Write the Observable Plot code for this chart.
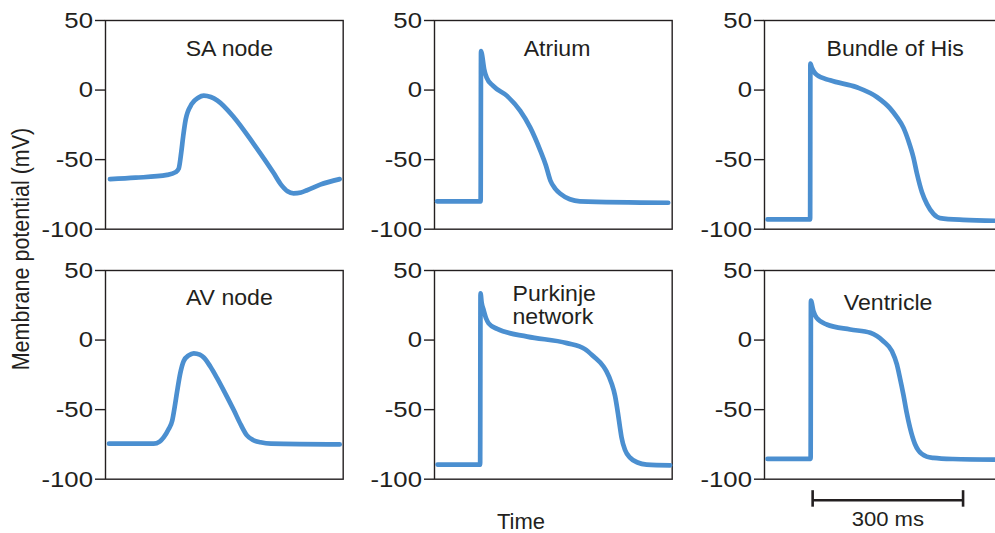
<!DOCTYPE html>
<html>
<head>
<meta charset="utf-8">
<script src="https://cdn.jsdelivr.net/npm/d3@7"></script>
<script src="https://cdn.jsdelivr.net/npm/@observablehq/plot@0.6"></script>
<style>
  html, body { margin: 0; padding: 0; background: #fff; overflow: hidden; }
  #chart { position: relative; width: 995px; height: 533px; overflow: hidden; background: #fff;
           font-family: "Liberation Sans", Arial, Helvetica, sans-serif; color: #231f20; }
  #chart svg { position: absolute; overflow: visible; }
  .lbl { position: absolute; white-space: nowrap; font-size: 21px; line-height: 1; color: #231f20; }
</style>
</head>
<body>
<div id="chart"></div>
<script>
// ---------- data (time in ms, membrane potential in mV) ----------
const panelNames = ["SA node", "Atrium", "Bundle of His", "AV node", "Purkinje\nnetwork", "Ventricle"];
const yTicks = [50, 0, -50, -100];
const xDomain = [0, 474];
const yDomain = [-100, 50];

const saTime = [9, 60, 123, 140, 146, 151, 155, 160, 172, 185, 196, 210, 223, 256, 295, 335, 350, 363, 375, 390, 402, 428, 467];
const saMv   = [-64, -63, -61, -59, -56.5, -45, -33, -21, -10, -5.5, -4, -5, -7.5, -19.5, -38.5, -59.5, -68, -72.8, -74.2, -73.6, -72, -68, -64];

const atriumTime = [5, 92, 92.8, 94.4, 99, 104, 117, 144, 171, 191, 211, 222, 231, 241, 251, 270, 290, 466];
const atriumMv   = [-80, -80, 28, 26, 15, 9, 3, -4, -15, -27, -43.5, -54, -65, -71, -74.5, -78.5, -80, -81];

const hisTime = [6, 91, 91.5, 94, 98, 104, 131, 184, 224, 250, 264, 277, 287, 297, 304, 314, 324, 337, 350, 396, 472];
const hisMv   = [-93, -93, 19, 16.5, 13.5, 11, 7, 2, -5, -13, -19.5, -27, -36.5, -48.5, -60, -73.5, -82, -89, -92, -93.3, -94];

const avTime = [7, 96, 108, 116, 126, 133, 138, 143, 149, 156, 166, 176, 188, 196, 209, 222, 239, 256, 270, 282, 295, 309, 330, 467];
const avMv   = [-74.5, -74.5, -73, -70, -64, -58, -48, -36.5, -24, -15, -11, -9.5, -10.5, -12.5, -19, -27, -38.5, -50.5, -61, -68.5, -72, -73.5, -74.5, -75];

const purkTime = [6, 91, 91.8, 94, 97.6, 103, 108, 125, 185, 264, 300, 317, 337, 343, 353, 360, 366, 370, 373, 380, 390, 405, 423, 470];
const purkMv   = [-89.5, -89.5, 33.5, 27, 22, 15.5, 12, 8, 2.5, -2.2, -6.5, -11.7, -19, -22.5, -31, -40, -53, -63, -70, -79, -84.5, -88, -89.5, -90];

const ventTime = [6, 92, 92.6, 97.6, 104, 124, 171, 211, 237, 254, 264, 270, 277, 283.5, 290, 300, 307, 323.5, 337, 376, 470];
const ventMv   = [-85.4, -85.4, 28.3, 20.7, 15.9, 11.2, 7.6, 5.2, -0.8, -7.9, -17.5, -27, -39.3, -52.1, -62.8, -74.7, -79.4, -83.8, -84.7, -85.5, -86];

const panelTimes = [saTime, atriumTime, hisTime, avTime, purkTime, ventTime];
const panelMvs   = [saMv, atriumMv, hisMv, avMv, purkMv, ventMv];

// scale bar: starts at 96 ms, 300 ms long
const scaleBarStart = 96;
const scaleBarLength = 300;

// ---------- layout / style ----------
const ink = "#231f20";
const blue = "#4b8fd0";
const colLeft = [105, 434.3, 764.3];
const rowTop = [20, 269.5];
const innerW = 237.7, innerH = 208.7;
const ML = 62, MT = 12, MR = 3;
// title offsets: [dx from frame center (or left for multi-line), dy from frame top]
const titlePos = [[5, 28], [3.7, 28], [11.8, 28.5], [5, 27.5], [78, 34.7], [4.8, 32.5]];

function stretchText(svg, selector, k) {
  svg.querySelectorAll(selector).forEach(t => {
    const b = t.getBBox();
    const a = getComputedStyle(t).textAnchor;
    const ox = a === "end" ? b.x + b.width : a === "middle" ? b.x + b.width / 2 : b.x;
    const tr = t.getAttribute("transform") || "";
    t.setAttribute("transform", `${tr} translate(${ox},0) scale(${k},1) translate(${-ox},0)`);
  });
}

const container = document.getElementById("chart");

panelNames.forEach((name, i) => {
  const col = i % 3, row = Math.floor(i / 3);
  const MB = row === 0 ? 6 : 64;
  const data = panelTimes[i].map((t, j) => ({t, v: panelMvs[i][j]}));
  const [tdx, tdy] = titlePos[i];
  const multi = name.includes("\n");
  const marks = [
    Plot.frame({stroke: ink, strokeWidth: 1.4}),
    Plot.axisY({ticks: yTicks, tickSize: 10, tickPadding: 2.5, tickFormat: d => String(d),
                fontSize: 23, label: null, strokeWidth: 1.4}),
    Plot.line(data, {x: "t", y: "v", stroke: blue, strokeWidth: 4.7, curve: "monotone-x",
                     strokeLinejoin: "round"}),
    Plot.text([name], {text: d => d, frameAnchor: multi ? "top-left" : "top", dx: tdx, dy: tdy,
                       textAnchor: multi ? "start" : "middle", lineAnchor: "middle", lineHeight: 1.06,
                       fontSize: 22, fill: ink})
  ];
  if (i === 5) {
    const bar = [{start: scaleBarStart, end: scaleBarStart + scaleBarLength, length: scaleBarLength}];
    marks.push(
      Plot.link(bar, {x1: "start", x2: "end", y1: yDomain[0], y2: yDomain[0], dy: 21,
                      stroke: ink, strokeWidth: 2.6}),
      Plot.ruleX([scaleBarStart, scaleBarStart + scaleBarLength],
                 {y1: yDomain[0], y2: yDomain[0], insetTop: 11.5, insetBottom: -28, stroke: ink, strokeWidth: 2.6}),
      Plot.text(bar, {x: d => (d.start + d.end) / 2, y: yDomain[0], dy: 40, text: d => `${d.length} ms`,
                      fontSize: 21, fill: ink, lineAnchor: "middle"})
    );
  }
  const svg = Plot.plot({
    width: ML + innerW + MR,
    height: MT + innerH + MB,
    marginLeft: ML, marginRight: MR, marginTop: MT, marginBottom: MB,
    x: {domain: xDomain, axis: null},
    y: {domain: yDomain},
    style: {fontFamily: '"Liberation Sans", Arial, Helvetica, sans-serif', color: ink,
            background: "transparent", overflow: "visible"},
    marks
  });
  svg.style.position = "absolute";
  svg.style.left = (colLeft[col] - ML) + "px";
  svg.style.top = (rowTop[row] - MT) + "px";
  container.appendChild(svg);
  stretchText(svg, 'g[aria-label="y-axis tick label"] text', 1.12);
  stretchText(svg, 'g[aria-label="text"] text', 1.05);
});

// shared axis labels
const yLab = document.createElement("div");
yLab.className = "lbl";
yLab.textContent = "Membrane potential (mV)";
yLab.style.fontSize = "21.5px";
yLab.style.left = "22px";
yLab.style.top = "249px";
yLab.style.transform = "translate(-50%,-50%) rotate(-90deg) scaleY(1.15)";
container.appendChild(yLab);

const xLab = document.createElement("div");
xLab.className = "lbl";
xLab.textContent = "Time";
xLab.style.fontSize = "22px";
xLab.style.lineHeight = "0.9";
xLab.style.left = "521px";
xLab.style.top = "511.5px";
xLab.style.transform = "translateX(-50%)";
container.appendChild(xLab);
</script>
</body>
</html>
